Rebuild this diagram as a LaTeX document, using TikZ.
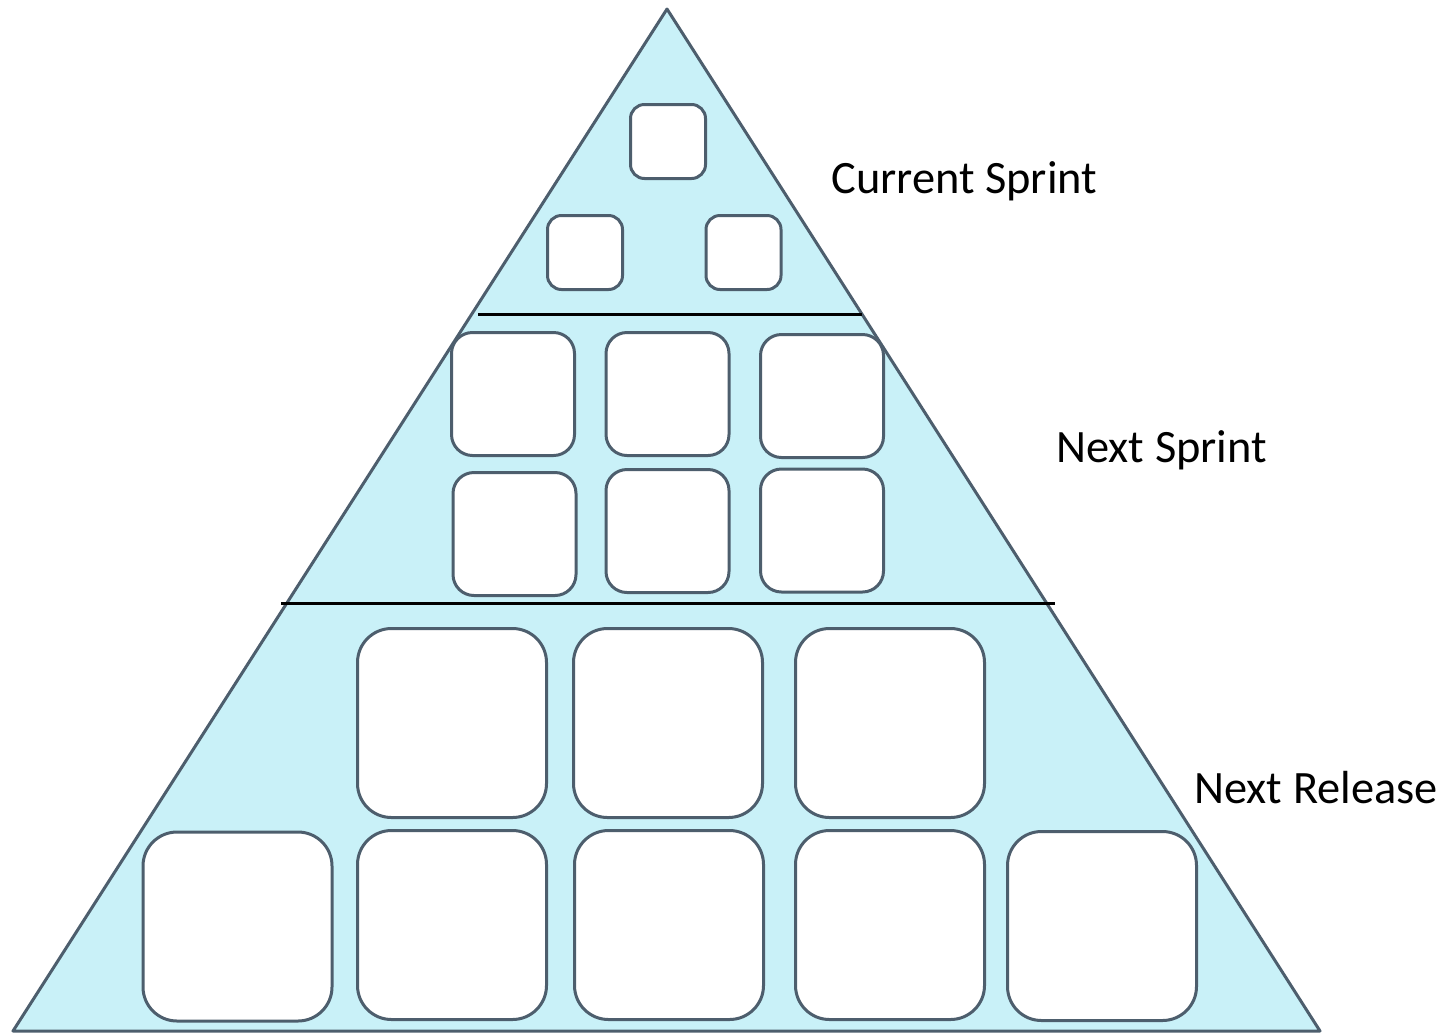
\documentclass[tikz,border=0pt]{standalone}
\usepackage{fontspec}
\setmainfont{Carlito}
\usepackage{tikz}
\usetikzlibrary{positioning}
\definecolor{pyrfill}{HTML}{C9F1F8}
\definecolor{pyrline}{HTML}{4D5E6D}

\begin{document}
\begin{tikzpicture}[x=0.5pt,y=-0.5pt]
    \tikzstyle{card} = [draw=pyrline,fill=white,line width=1.5pt,inner sep=0pt]
    \tikzstyle{smallcard} = [card,minimum width=37.5pt,minimum height=37pt,rounded corners=7pt]
    \tikzstyle{midcard} = [card,minimum width=61.5pt,minimum height=61.5pt,rounded corners=10.5pt]
    \tikzstyle{bigcard} = [card,minimum width=94.5pt,minimum height=94.5pt,rounded corners=17pt]
    \tikzstyle{mylabel} = [anchor=base west,inner sep=0pt,font=\fontsize{23.2}{28}\selectfont]
    \tikzstyle{divider} = [draw=black,line width=1.5pt]
    \useasboundingbox (0,0) rectangle (1455,1034);
    % pyramid
    \coordinate (apex) at (667,9);
    \coordinate (bl) at (13,1031);
    \coordinate (br) at (1320,1031);
    \draw[pyrline,fill=pyrfill,line width=1.5pt,line join=round] (apex) -- (br) -- (bl) -- cycle;
    % current sprint
    \node[smallcard] (cs1) at (668,141.5) {};
    \node[smallcard] (cs2) at (585,252.5) {};
    \node[smallcard] (cs3) at (743.5,252.5) {};
    \coordinate (d1l) at (478,314);
    \coordinate (d1r) at (862,314);
    \draw[divider] (d1l) -- (d1r);
    % next sprint
    \node[midcard] (ns1) at (513,394) {};
    \node[midcard] (ns2) at (667.5,394) {};
    \node[midcard] (ns3) at (822,396) {};
    \node[midcard] (ns4) at (514.5,534) {};
    \node[midcard] (ns5) at (667.5,531) {};
    \node[midcard] (ns6) at (822,530.5) {};
    \coordinate (d2l) at (281,603);
    \coordinate (d2r) at (1055,603);
    \draw[divider] (d2l) -- (d2r);
    % next release
    \node[bigcard] (nr1) at (452,723) {};
    \node[bigcard] (nr2) at (668,723) {};
    \node[bigcard] (nr3) at (890,723) {};
    \node[bigcard] (nr4) at (237.5,926.5) {};
    \node[bigcard] (nr5) at (452,925) {};
    \node[bigcard] (nr6) at (669,925) {};
    \node[bigcard] (nr7) at (890,925) {};
    \node[bigcard] (nr8) at (1102,926) {};
    % labels
    \node[mylabel] (lcs) at (831,193) {Current Sprint};
    \node[mylabel] (lns) at (1056,462) {Next Sprint};
    \node[mylabel] (lnr) at (1194,803) {Next Release};
\end{tikzpicture}
\end{document}
